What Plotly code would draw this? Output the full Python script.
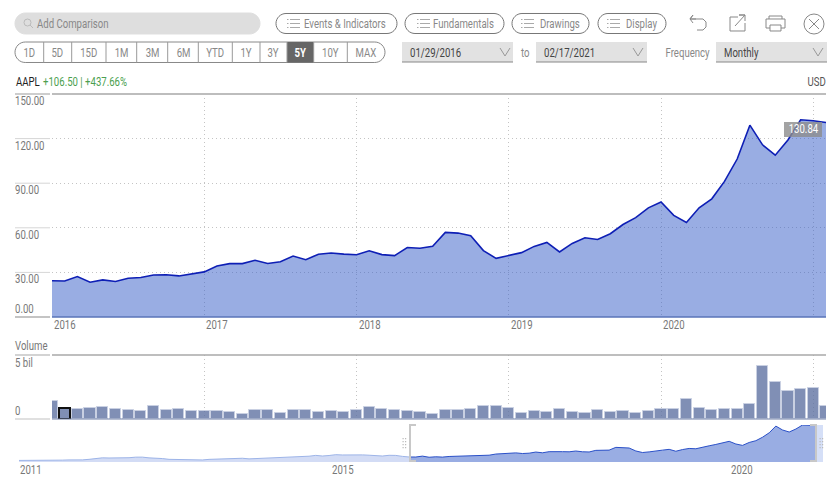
import plotly.graph_objects as go

W, H = 836, 488
FONT = "Roboto"

# --- data -------------------------------------------------------------------
price = [24.34, 24.17, 27.25, 23.43, 24.97, 23.90, 26.05, 26.52, 28.26, 28.39, 27.63, 28.95,
         30.34, 34.25, 35.91, 35.91, 38.19, 36.00, 37.18, 41.00, 38.53, 42.26, 43.07, 42.31,
         41.86, 44.53, 41.95, 41.31, 46.72, 46.28, 47.57, 56.91, 56.44, 54.72, 44.65, 39.44,
         41.61, 43.29, 47.49, 50.17, 43.77, 49.48, 53.26, 52.18, 55.99, 62.19, 66.81, 73.41,
         77.38, 68.34, 63.57, 73.45, 79.49, 91.20, 106.26, 129.04, 115.81, 108.86, 119.05,
         132.69, 131.96, 130.84]
volume = [1.41, 0.90, 0.77, 0.90, 0.96, 0.80, 0.74, 0.66, 1.01, 0.72, 0.77, 0.66,
          0.64, 0.61, 0.58, 0.40, 0.72, 0.72, 0.48, 0.69, 0.74, 0.53, 0.66, 0.58,
          0.74, 0.98, 0.80, 0.69, 0.66, 0.53, 0.40, 0.72, 0.72, 0.80, 1.01, 1.01,
          0.90, 0.50, 0.66, 0.53, 0.77, 0.53, 0.48, 0.69, 0.58, 0.66, 0.48, 0.61,
          0.80, 0.80, 1.60, 0.88, 0.72, 0.82, 0.80, 1.20, 4.26, 2.93, 2.24, 2.40, 2.48, 1.04]
history = [12.6, 12.5, 12.5, 12.4, 12.0, 13.9, 13.7, 13.6, 14.4, 13.6, 14.5,
           16.3, 19.4, 21.4, 20.9, 20.6, 20.9, 21.8, 23.7, 23.8, 21.3, 20.9, 19.0,
           16.3, 15.8, 15.8, 15.8, 16.1, 14.2, 16.2, 17.4, 17.0, 18.7, 19.9, 20.0,
           17.9, 18.8, 19.2, 21.1, 22.6, 23.2, 23.9, 25.6, 25.2, 27.0, 29.7, 27.6,
           29.3, 32.1, 31.1, 31.3, 32.6, 31.4, 30.3, 28.2, 27.6, 30.0, 29.6, 26.3]
price_ticks = [0, 30, 60, 90, 120, 150]
price_labels = ["0.00", "30.00", "60.00", "90.00", "120.00", "150.00"]
year_ticks = [0, 12, 24, 36, 48, 60]
year_labels = ["2016", "2017", "2018", "2019", "2020"]
range_buttons = ["1D", "5D", "15D", "1M", "3M", "6M", "YTD", "1Y", "3Y", "5Y", "10Y", "MAX"]
tool_buttons = ["Events & Indicators", "Fundamentals", "Drawings", "Display"]
nav_labels = ["2011", "2015", "2020"]

months = list(range(len(price)))
hist_x = list(range(-len(history), 0))

# --- helpers ----------------------------------------------------------------
px = lambda x: x / W
py = lambda y: 1 - y / H
shapes, notes = [], []


def line(x0, y0, x1, y1, color="#999", width=1, dash=None):
    shapes.append(dict(type="line", xref="paper", yref="paper", x0=px(x0), x1=px(x1), y0=py(y0), y1=py(y1),
                       line=dict(color=color, width=width, dash=dash)))


def rect(x0, y0, x1, y1, fill, color=None, width=0, layer="above"):
    shapes.append(dict(type="rect", xref="paper", yref="paper", x0=px(x0), x1=px(x1), y0=py(y0), y1=py(y1),
                       fillcolor=fill, layer=layer, line=dict(color=color or fill, width=width)))


def path(points, color="#888", width=1, fill=None, close=False):
    d = "M" + " L".join(f"{px(a):.5f},{py(b):.5f}" for a, b in points) + (" Z" if close else "")
    shapes.append(dict(type="path", xref="paper", yref="paper", path=d, fillcolor=fill,
                       line=dict(color=color, width=width)))


def pill(x0, y0, x1, y1, fill="rgba(0,0,0,0)", color="#888", width=1):
    r = (y1 - y0) / 2
    c = r * 0.55
    P = lambda a, b: f"{px(a):.5f},{py(b):.5f}"
    d = (f"M{P(x0 + r, y0)} L{P(x1 - r, y0)} "
         f"C{P(x1 - r + c, y0)} {P(x1, y0 + r - c)} {P(x1, y0 + r)} "
         f"C{P(x1, y1 - r + c)} {P(x1 - r + c, y1)} {P(x1 - r, y1)} L{P(x0 + r, y1)} "
         f"C{P(x0 + r - c, y1)} {P(x0, y1 - r + c)} {P(x0, y0 + r)} "
         f"C{P(x0, y0 + r - c)} {P(x0 + r - c, y0)} {P(x0 + r, y0)} Z")
    shapes.append(dict(type="path", xref="paper", yref="paper", path=d, fillcolor=fill,
                       line=dict(color=color, width=width)))


def circle(x0, y0, x1, y1, color="#888", width=1):
    shapes.append(dict(type="circle", xref="paper", yref="paper", x0=px(x0), x1=px(x1), y0=py(y0), y1=py(y1),
                       line=dict(color=color, width=width)))


def text(x, y, s, size=12, color="#777", anchor="left"):
    notes.append(dict(x=px(x), y=py(y), xref="paper", yref="paper", text=s, showarrow=False, xanchor=anchor,
                      yanchor="middle", font=dict(family=FONT, size=size, color=color),
                      borderpad=0, borderwidth=0))


def menu_icon(x, y):
    for dy in (-4, 0, 4):
        line(x, y + dy, x + 1.5, y + dy, "#aaa")
        line(x + 3, y + dy, x + 13, y + dy, "#aaa")


def chevron(x, y):
    path([(x - 5, y - 4), (x, y + 4), (x + 5, y - 4)], "#999")


# --- top toolbar ------------------------------------------------------------
pill(15, 13, 260, 34, fill="#dedede", color="#dedede")
circle(24, 19, 31, 26, "#bbb")
line(30, 25, 33, 28, "#bbb")
text(37, 24, "Add Comparison", 12, "#888")

button_spans = [(276, 397, 287, 304), (405, 504, 417, 433), (512, 589, 521, 540), (598, 666, 607, 626)]
for label, (x0, x1, ix, tx) in zip(tool_buttons, button_spans):
    pill(x0, 13.5, x1, 33.5, color="#777")
    menu_icon(ix, 23.5)
    text(tx, 24, label, 12, "#888")

pill(15, 42, 385, 62.5, color="#888")
edges = [15, 43.7, 71.7, 106, 136.7, 167.7, 198.3, 232.3, 260, 287, 313.7, 347.3, 385]
rect(287, 42, 313.7, 62.5, "#666666")
for i, label in enumerate(range_buttons):
    if 0 < i:
        line(edges[i], 42, edges[i], 62.5, "#999")
    active = label == "5Y"
    text((edges[i] + edges[i + 1]) / 2, 52.5, f"<b>{label}</b>" if active else label, 12,
         "#ffffff" if active else "#888", "center")

for x0, x1, label, tx, cx in [(402, 513, "01/29/2016", 410, 505), (536, 647, "02/17/2021", 544, 638),
                              (716, 827, "Monthly", 724, 818)]:
    rect(x0, 42, x1, 62, "#e2e2e2", layer="below")
    line(x0, 62, x1, 62, "#888")
    text(tx, 52.5, label, 12, "#444")
    chevron(cx, 52)
text(525, 53, "to", 12, "#888", "center")
text(688, 53, "Frequency", 12, "#888", "center")

# undo / share / print / close icons
path([(696, 19), (690, 19), (693, 15), (690, 19), (693, 23)], "#888")
path([(690, 19), (703, 19), (706, 22), (706, 27), (703, 30), (697, 30)], "#888")
path([(738, 17), (730, 17), (730, 31), (745, 31), (745, 23)], "#888")
path([(735, 26), (745, 15), (739, 15), (745, 15), (745, 21)], "#888")
path([(769, 19), (769, 16), (782, 16), (782, 19)], "#888")
path([(770, 28), (766, 28), (766, 19), (785, 19), (785, 28), (781, 28)], "#888")
path([(770, 25), (781, 25), (781, 31), (770, 31)], "#888", close=True)
circle(804, 14, 824, 34, "#888")
line(809, 19, 819, 29, "#888")
line(819, 19, 809, 29, "#888")

# --- header row of the chart ------------------------------------------------
text(16, 82, "AAPL", 12, "#222")
text(43, 82, "+106.50 | +437.66%", 12, "#4c9f50")
text(826, 82, "USD", 12, "#555", "right")
line(15, 94, 50, 94, "#c4c4c4", 2)
line(52, 94, 826, 94, "#bdbdbd", 2)
for v, label in zip(price_ticks, price_labels):
    y = 317 - v * (317 - 94) / 150
    if v:
        line(15, y, 50, y, "#d6d6d6")
    text(15, y + 7 if v else 309, label, 12, "#777")
line(15, 317, 50, 317, "#c4c4c4", 2)
for t, label in zip(year_ticks, year_labels):
    notes.append(dict(x=t, y=py(325), xref="x", yref="paper", text=label, showarrow=False, xanchor="left",
                      yanchor="middle", font=dict(family=FONT, size=12, color="#777")))

text(15, 346, "Volume", 12, "#777")
line(15, 355, 50, 355, "#c4c4c4", 1.5)
line(52, 355, 826, 355, "#a8a8a8", 1.5)
text(15, 363, "5 bil", 12, "#777")
text(15, 411, "0", 12, "#777")
line(15, 419, 50, 419, "#d6d6d6", 1.5)
line(52, 419, 826, 419, "#6f7fa6", 1.2)

# price tag, on top of the line
rect(784, 122, 822, 137, "rgba(140,140,140,0.8)")
text(803, 129.5, f"{price[-1]:.2f}", 12, "#ffffff", "center")

# navigator overlay
rect(816, 425, 823, 462, "rgba(150,175,235,0.4)", layer="below")
for xs in ([416, 410, 410, 416], [810, 816, 816, 810]):
    path(list(zip(xs, [425, 425, 461, 461])), "#c8c8c8", 2)
for gx in (402.5, 405, 819.5, 822):
    for gy in (438, 441, 444, 447):
        rect(gx, gy, gx + 1.2, gy + 1.2, "#bbbbbb")
for x, label in zip((20, 332, 731), nav_labels):
    text(x, 470, label, 12, "#777")

# --- traces -----------------------------------------------------------------
fig = go.Figure()
fig.add_trace(go.Scatter(x=months, y=price, mode="lines", fill="tozeroy", fillcolor="rgba(52,92,200,0.5)",
                         line=dict(color="#0e1fb5", width=1.6), xaxis="x", yaxis="y", hoverinfo="skip"))
fig.add_trace(go.Bar(x=months, y=volume, width=0.88, xaxis="x2", yaxis="y2", hoverinfo="skip",
                     marker=dict(color="rgba(92,112,160,0.78)",
                                 line=dict(color=["#111111" if i == 1 else "#c9d0e2" for i in months],
                                           width=[2 if i == 1 else 1 for i in months]))))
fig.add_trace(go.Scatter(x=hist_x + [0], y=history + price[:1], mode="lines", fill="tozeroy",
                         fillcolor="rgba(120,150,225,0.33)", line=dict(color="#9db4e8", width=1),
                         xaxis="x3", yaxis="y3", hoverinfo="skip"))
fig.add_trace(go.Scatter(x=months, y=price, mode="lines", fill="tozeroy", fillcolor="rgba(52,92,200,0.5)",
                         line=dict(color="#2a50c8", width=1), xaxis="x3", yaxis="y3", hoverinfo="skip"))

grid = dict(showgrid=True, griddash="1px,3px", gridcolor="#c4c4c4", gridwidth=1, zeroline=False,
            showticklabels=False, ticks="", showline=False, fixedrange=True)
plain = dict(showgrid=False, zeroline=False, showticklabels=False, ticks="", showline=False, fixedrange=True)

fig.update_layout(
    width=W, height=H, margin=dict(l=0, r=0, t=0, b=0), paper_bgcolor="white", plot_bgcolor="white",
    showlegend=False, bargap=0, shapes=shapes, annotations=notes,
    xaxis=dict(domain=[px(52), px(826)], range=[0, 61], tickvals=year_ticks, anchor="y", **grid),
    yaxis=dict(domain=[py(317), py(94)], range=[0, 150], tickvals=price_ticks, anchor="x", **grid),
    xaxis2=dict(domain=[px(52), px(826)], range=[0, 61], tickvals=year_ticks, anchor="y2", **grid),
    yaxis2=dict(domain=[py(419), py(355)], range=[0, 5.1], anchor="x2", **plain),
    xaxis3=dict(domain=[px(19), px(823)], range=[-58.5, 62.07], anchor="y3", **plain),
    yaxis3=dict(domain=[py(462), py(425)], range=[7.3, 132.7], anchor="x3", **plain),
)
fig.add_shape(type="line", xref="paper", yref="paper", x0=px(52), x1=px(826), y0=py(317), y1=py(317),
              line=dict(color="#5a74b8", width=1.5))

# The reference uses a condensed face; narrow the real text to the same widths and drop the page margin.
post = """
document.body.style.margin = '0';
function condense() {
  var gd = document.querySelector('.plotly-graph-div');
  if (!gd || !gd.layout) return;
  var k = 0.8;
  gd.querySelectorAll('.annotation').forEach(function (g) {
    var idx = +g.getAttribute('data-index');
    var t = g.querySelector('text');
    if (!t || t.getAttribute('data-done')) return;
    var w = t.getComputedTextLength();
    var a = gd.layout.annotations[idx].xanchor;
    var x = parseFloat(t.getAttribute('x'));
    if (a === 'left') x -= w * (1 - k) / 2;
    if (a === 'right') x += w * (1 - k) / 2;
    t.setAttribute('x', x);
    t.setAttribute('textLength', w * k);
    t.setAttribute('lengthAdjust', 'spacingAndGlyphs');
    t.setAttribute('data-done', '1');
  });
}
condense();
setTimeout(condense, 30);
"""
fig.write_html("out.html", config=dict(displayModeBar=False), post_script=post)
